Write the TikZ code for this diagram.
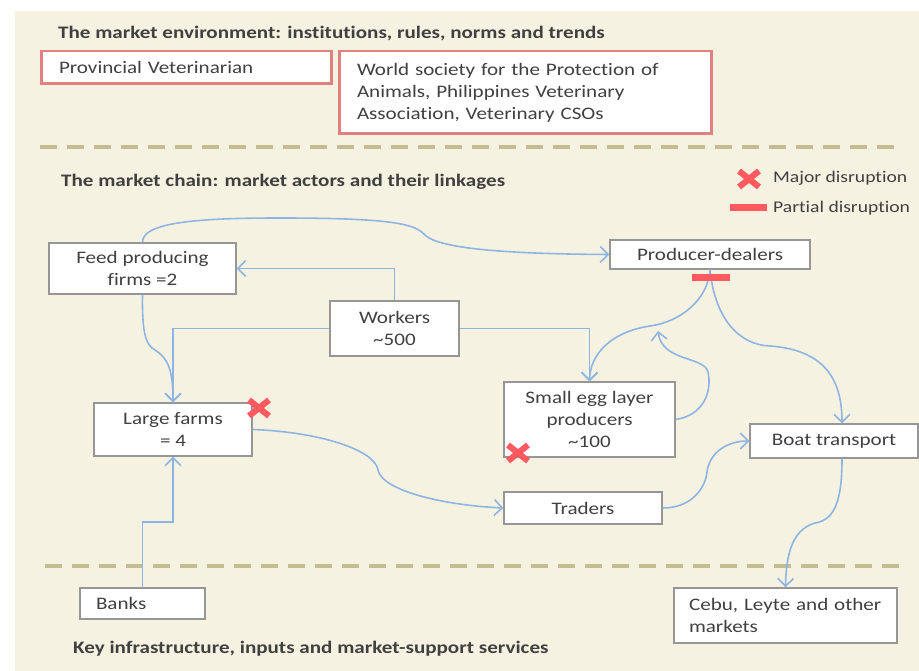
\documentclass[tikz,border=0pt]{standalone}
\usepackage{fontspec}
\setmainfont{Carlito}[FakeStretch=1.2, Ligatures=NoCommon]
\usepackage{xcolor}
\usetikzlibrary{arrows.meta, calc}
\definecolor{panel}{RGB}{246,242,226}
\definecolor{rosy}{RGB}{226,128,128}
\definecolor{khaki}{RGB}{198,188,145}
\definecolor{linkblue}{RGB}{141,180,226}
\definecolor{alarm}{RGB}{255,90,95}
\definecolor{inkgray}{RGB}{64,64,64}
\definecolor{edgegray}{RGB}{150,150,150}
\newcommand{\chainfont}{\fontsize{10pt}{12.5pt}\selectfont}

\begin{document}
\begin{tikzpicture}[x=0.02cm, y=-0.02cm, >={Straight Barb[length=4.5pt,width=9pt]},
    every node/.style={text=inkgray, font=\chainfont},
    heading/.style={anchor=west, font=\chainfont\bfseries},
    legend/.style={anchor=west, font=\fontsize{9.3pt}{11pt}\selectfont},
    pinkbox/.style={draw=rosy, line width=1.7pt, fill=white, align=left, inner ysep=0pt, inner xsep=0.36cm},
    box/.style={draw=edgegray, line width=0.8pt, fill=white, align=center, inner sep=0pt},
    divider/.style={khaki, line width=2.3pt, dash pattern=on 0.34cm off 0.2cm},
    link/.style={linkblue, line width=0.9pt, ->},
    majorx/.style={alarm, line width=3.5pt},
    partialbar/.style={alarm, line width=0.14cm}]

    % --- Canvas ---
    \useasboundingbox (0,0) rectangle (919,671);
    \fill[panel] (15,11) rectangle (919,671);

    % --- Market environment ---
    \node[heading] (envtitle) at (52,34) {The market environment: institutions, rules, norms and trends};
    \node[pinkbox, text width=5.10cm, minimum height=0.66cm] (provvet) at (186.5,67.5) {Provincial Veterinarian};
    \node[pinkbox, text width=6.74cm, minimum height=1.66cm] (wspa) at (525.5,92.5)
        {World society for the Protection of\\ Animals, Philippines Veterinary\\ Association, Veterinary CSOs};

    \draw[divider] (40,147) -- (902,147);

    % --- Market chain ---
    \node[heading] (chaintitle) at (55,182) {The market chain: market actors and their linkages};

    % Legend
    \draw[majorx] (749,179) +(-10,-8) -- +(10,8) +(-10,8) -- +(10,-8);
    \node[legend] (majorlbl) at (767,178) {Major disruption};
    \draw[partialbar] (730,208) -- (767,208);
    \node[legend] (partiallbl) at (767,208) {Partial disruption};

    % Actors
    \node[box, minimum width=3.74cm, minimum height=1.02cm] (feed) at (142.5,268.5) {Feed producing\\ firms =2};
    \node[box, minimum width=4cm, minimum height=0.58cm] (dealers) at (710,254.5) {Producer-dealers};
    \node[box, minimum width=2.58cm, minimum height=1.1cm] (workers) at (394.5,328.5) {Workers\\ \textasciitilde500};
    \node[box, minimum width=3.16cm, minimum height=1.06cm] (large) at (173,429.5) {Large farms\\ = 4};
    \node[box, minimum width=3.42cm, minimum height=1.5cm] (small) at (589.5,419.5) {Small egg layer\\ producers\\ \textasciitilde100};
    \node[box, minimum width=3.36cm, minimum height=0.68cm] (boat) at (834,441) {Boat transport};
    \node[box, minimum width=3.16cm, minimum height=0.64cm] (traders) at (583,508) {Traders};

    % --- Linkages ---
    \draw[link] (feed.north) .. controls (142,222) and (200,218) .. (280,218)
        .. controls (400,218) and (415,225) .. (425,235)
        .. controls (440,250) and (520,254) .. (dealers.west);
    \draw[link] (workers.north) |- (feed.east);
    \draw[link] (workers.west) -| (large.north);
    \draw[link] (feed.south) .. controls (142,330) and (145,345) .. (155,350)
        .. controls (168,358) and (173,370) .. (large.north);
    \draw[link] (workers.east) -| (small.north);
    \draw[link] (dealers.south) .. controls (708,300) and (680,322) .. (650,326)
        .. controls (610,332) and (590,355) .. (small.north);
    \draw[link] (dealers.south) .. controls (715,320) and (740,345) .. (770,346)
        .. controls (825,350) and (842,380) .. ([xshift=0.16cm]boat.north);
    % loop back from small producers
    \coordinate (loopend) at (658,331);
    \draw[link] (small.east) .. controls (705,415) and (712,390) .. (708,372)
        .. controls (704,356) and (662,362) .. (loopend);
    \draw[link] (large.east) .. controls (320,432) and (375,450) .. (378,470)
        .. controls (382,490) and (440,505) .. (traders.west);
    \draw[link] (traders.east) .. controls (690,508) and (705,490) .. (707,472)
        .. controls (710,450) and (730,441) .. (boat.west);

    % Disruption marks
    \draw[partialbar] (692,278) -- (730,278);
    \draw[majorx] (259,408) +(-10,-8) -- +(10,8) +(-10,8) -- +(10,-8);
    \draw[majorx] (518,453) +(-10,-8) -- +(10,8) +(-10,8) -- +(10,-8);

    \draw[divider] (45,566) -- (908,566);

    % --- Support services ---
    \node[box, align=left, text width=1.86cm, inner xsep=0.32cm, minimum height=0.62cm] (banks) at (142.5,603.5) {Banks};
    \node[box, align=left, text width=3.86cm, inner xsep=0.30cm, minimum height=1.1cm] (markets) at (785.5,615.5)
        {Cebu, Leyte and other\\ markets};
    \coordinate (bankturn) at (142.5,522);
    \draw[link] (banks.north) |- (bankturn) -| (large.south);
    \draw[link] ([xshift=0.16cm]boat.south) .. controls (842,500) and (835,520) .. (815,523)
        .. controls (790,530) and (786,560) .. (markets.north);
    \node[heading] (supporttitle) at (67,649) {Key infrastructure, inputs and market-support services};

\end{tikzpicture}
\end{document}
